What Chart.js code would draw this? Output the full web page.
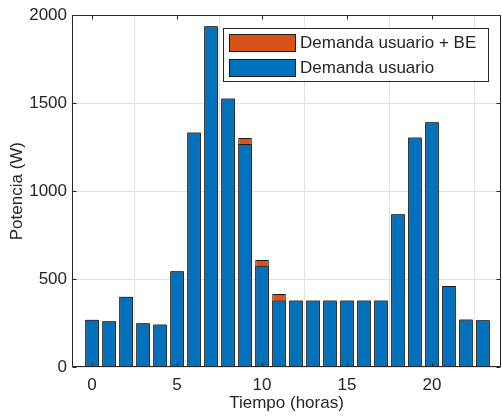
<!DOCTYPE html>
<html>
<head>
<meta charset="utf-8">
<script src="https://cdn.jsdelivr.net/npm/chart.js@4/dist/chart.umd.min.js"></script>
<style>
  html, body { margin: 0; padding: 0; background: #ffffff; }
  canvas { display: block; }
</style>
</head>
<body>
<canvas id="chart" width="502" height="418"></canvas>
<script>
// Hourly power demand (W)
const hours = [0, 1, 2, 3, 4, 5, 6, 7, 8, 9, 10, 11, 12, 13, 14, 15, 16, 17, 18, 19, 20, 21, 22, 23];
const demandaUsuario = [268, 260, 400, 249, 241, 545, 1333, 1937, 1527, 1268, 575, 378, 378, 378, 378, 378, 378, 378, 869, 1305, 1392, 461, 270, 266];
const demandaUsuarioBE = [268, 260, 400, 249, 241, 545, 1333, 1937, 1527, 1302, 608, 415, 378, 378, 378, 378, 378, 378, 869, 1305, 1392, 461, 270, 266];
const xTicks = [0, 5, 10, 15, 20];
const yTicks = [0, 500, 1000, 1500, 2000];
const seriesLabels = ['Demanda usuario + BE', 'Demanda usuario'];
const seriesColors = ['#D95319', '#0072BD'];

const TEXT = '#262626';
const AXIS = '#262626';
const GRID = '#e2e2e2';
const FONT = { family: '"Liberation Sans", Arial, sans-serif', size: 17 };

const toPoints = (vals) => hours.map((h, i) => ({ x: h, y: vals[i] }));

// Frame on all four sides with inward tick marks
const axesBox = {
  id: 'axesBox',
  afterDatasetsDraw(chart) {
    const { ctx, chartArea: a, scales: { x, y } } = chart;
    const L = Math.round(a.left) + 0.5, R = Math.round(a.right) - 0.5;
    const T = Math.round(a.top) + 0.5, B = Math.round(a.bottom) - 0.5;
    const len = 4;
    ctx.save();
    ctx.strokeStyle = AXIS;
    ctx.lineWidth = 1;
    ctx.beginPath();
    ctx.rect(L, T, R - L, B - T);
    xTicks.forEach(v => {
      const px = Math.round(x.getPixelForValue(v)) + 0.5;
      ctx.moveTo(px, B); ctx.lineTo(px, B - len);
      ctx.moveTo(px, T); ctx.lineTo(px, T + len);
    });
    yTicks.forEach(v => {
      const py = Math.round(y.getPixelForValue(v)) + 0.5;
      ctx.moveTo(L, py); ctx.lineTo(L + len, py);
      ctx.moveTo(R, py); ctx.lineTo(R - len, py);
    });
    ctx.stroke();
    ctx.restore();
  }
};

// Boxed legend inside the plot, upper right
const boxedLegend = {
  id: 'boxedLegend',
  afterDraw(chart) {
    const { ctx } = chart;
    const bx = 223.5, by = 28.5, bw = 265, bh = 53;
    ctx.save();
    ctx.fillStyle = '#ffffff';
    ctx.fillRect(bx, by, bw, bh);
    ctx.strokeStyle = AXIS;
    ctx.lineWidth = 1;
    ctx.strokeRect(bx, by, bw, bh);
    ctx.font = FONT.size + 'px ' + FONT.family;
    ctx.textBaseline = 'middle';
    ctx.textAlign = 'left';
    const rows = [34.5, 59.5];
    chart.data.datasets.slice().sort((p, q) => p.legendRank - q.legendRank).forEach((ds, i) => {
      const sy = rows[i];
      ctx.fillStyle = ds.backgroundColor;
      ctx.fillRect(229.5, sy, 66, 17);
      ctx.strokeStyle = '#1a1a1a';
      ctx.strokeRect(229.5, sy, 66, 17);
      ctx.fillStyle = TEXT;
      ctx.fillText(ds.label, 300, sy + 9);
    });
    ctx.restore();
  }
};

new Chart(document.getElementById('chart'), {
  type: 'bar',
  data: {
    datasets: [
      {
        label: seriesLabels[1],
        legendRank: 1,
        data: toPoints(demandaUsuario),
        backgroundColor: seriesColors[1],
        borderColor: '#1a1a1a',
        borderWidth: 1,
        grouped: false,
        barPercentage: 0.8,
        categoryPercentage: 1
      },
      {
        label: seriesLabels[0],
        legendRank: 0,
        data: toPoints(demandaUsuarioBE),
        backgroundColor: seriesColors[0],
        borderColor: '#1a1a1a',
        borderWidth: 1,
        grouped: false,
        barPercentage: 0.8,
        categoryPercentage: 1
      }
    ]
  },
  options: {
    responsive: false,
    animation: false,
    layout: { padding: { top: 13, right: 1, left: 0, bottom: 0 } },
    plugins: { legend: { display: false }, tooltip: { enabled: false } },
    scales: {
      x: {
        type: 'linear',
        min: -1.18,
        max: 24.06,
        offset: false,
        afterBuildTicks(s) { s.ticks = xTicks.map(v => ({ value: v })); },
        afterFit(s) { s.height = 51; },
        grid: { color: GRID, drawTicks: false },
        border: { display: false },
        ticks: { color: TEXT, font: FONT, padding: 8, maxRotation: 0, callback: v => String(v) },
        title: { display: true, text: 'Tiempo (horas)', color: TEXT, font: FONT, padding: { top: 0, bottom: 4 } }
      },
      y: {
        min: 0,
        max: 2000,
        afterBuildTicks(s) { s.ticks = yTicks.map(v => ({ value: v })); },
        afterFit(s) { s.width = 72; },
        grid: { color: GRID, drawTicks: false },
        border: { display: false },
        ticks: { color: TEXT, font: FONT, padding: 5, callback: v => String(v) },
        title: { display: true, text: 'Potencia (W)', color: TEXT, font: FONT, padding: { top: 7, bottom: 0 } }
      }
    }
  },
  plugins: [axesBox, boxedLegend]
});
</script>
</body>
</html>
